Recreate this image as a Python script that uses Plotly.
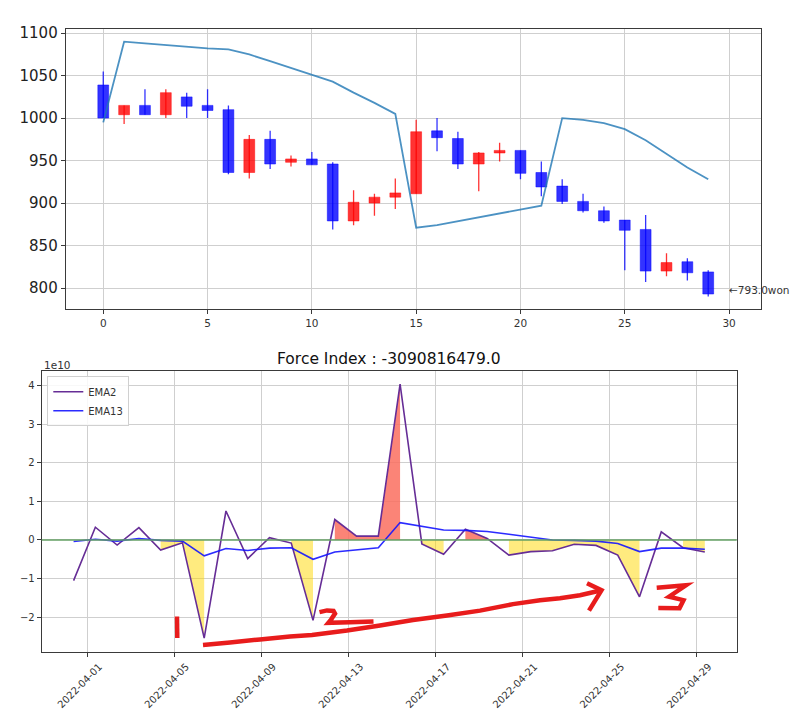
import pandas as pd
import plotly.graph_objects as go

# ---------------- data ----------------
candle_idx = list(range(30))
open_ = [1039, 1004, 1015, 1004, 1025, 1015, 1010, 936, 975, 948, 952, 946, 879, 900, 907,
         911, 985, 976, 946, 959, 962, 936, 920, 902, 891, 880, 869, 820, 831, 819]
close = [1000, 1015, 1004, 1030, 1014, 1009, 936, 975, 946, 952, 945, 879, 901, 907, 912,
         984, 977, 946, 959, 962, 935, 919, 902, 891, 879, 868, 820, 830, 818, 793]
high = [1055, 1015, 1034, 1034, 1030, 1034, 1015, 980, 985, 956, 960, 948, 915, 911, 929,
        998, 1000, 984, 960, 971, 962, 949, 928, 911, 896, 880, 886, 841, 835, 821]
low = [1000, 993, 1004, 1000, 1000, 1000, 934, 929, 940, 943, 945, 869, 874, 885, 893,
       911, 961, 940, 914, 949, 928, 908, 899, 889, 877, 821, 807, 814, 809, 790]
band_line = [995, 1090, 1088, 1086, 1084, 1082, 1081, 1075, 1067, 1059, 1051, 1043, 1030, 1018, 1005,
             871, 874, 878.5, 883, 888, 892.5, 897, 1000, 998, 994, 987, 974, 958, 942, 928]

dates = pd.date_range("2022-03-31 09:00", periods=30, freq="D")
ema2 = [-1.05e10, 0.33e10, -0.13e10, 0.32e10, -0.26e10, -0.07e10, -2.54e10, 0.75e10, -0.48e10, 0.06e10,
        -0.08e10, -2.08e10, 0.53e10, 0.10e10, 0.10e10, 4.03e10, -0.10e10, -0.37e10, 0.28e10, 0.04e10,
        -0.39e10, -0.30e10, -0.28e10, -0.11e10, -0.14e10, -0.39e10, -1.47e10, 0.21e10, -0.20e10,
        -3090816479.0]
ema13 = [-0.04e10, 0.02e10, -0.03e10, 0.04e10, -0.01e10, -0.03e10, -0.41e10, -0.22e10, -0.27e10, -0.21e10,
         -0.20e10, -0.50e10, -0.31e10, -0.26e10, -0.20e10, 0.45e10, 0.36e10, 0.26e10, 0.25e10, 0.22e10,
         0.15e10, 0.08e10, 0.0, -0.01e10, -0.03e10, -0.09e10, -0.30e10, -0.21e10, -0.21e10, -0.24e10]

top_xticks = [0, 5, 10, 15, 20, 25, 30]
top_yticks = [800, 850, 900, 950, 1000, 1050, 1100]
bot_xticks = pd.date_range("2022-04-01", "2022-04-29", freq="4D")
bot_yticks = [-2, -1, 0, 1, 2, 3, 4]

# hand-drawn red marks (window pixel coordinates)
mark_one = [(177, 616), (177.3, 637.5)]
mark_curve = [(203, 644.5), (230, 642), (260, 639), (290, 636), (312, 634.5), (347, 630), (380, 625),
              (413, 619.5), (447, 615), (480, 610), (513, 603.5), (540, 599.5), (560, 597.5),
              (580, 594.5), (601.5, 589.5)]
mark_head = [(587, 582.5), (601.5, 589.5), (589, 610)]
mark_two = [(319.5, 611.5), (327, 609.8), (333.5, 610.3), (335, 613), (331, 619), (328.3, 622.3),
            (350, 621.7), (373.5, 621)]
mark_three = [(656.7, 587), (686, 584.5), (669, 596), (683.5, 599.5), (679.5, 607.5), (658.3, 607.3)]

# the page body has an 8px margin: the figure is drawn offset by OFF inside the window
OFF = 8
W, H = 800 - OFF, 719 - OFF


def fx(px):
    return (px - OFF) / W


def fy(py):
    return 1 - (py - OFF) / H


RED = "rgba(255,0,0,0.8)"
BLUE = "rgba(0,0,255,0.8)"
GRID = "#cfcfcf"
AX = "#3a3a3a"
FONT = "DejaVu Sans"

fig = go.Figure()

# ---------------- top: candles ----------------
up = [c > o for o, c in zip(open_, close)]
colors = [RED if u else BLUE for u in up]

for want, col in ((True, RED), (False, BLUE)):
    xs, ys = [], []
    for i, h, l, u in zip(candle_idx, high, low, up):
        if u == want:
            xs += [i, i, None]
            ys += [l, h, None]
    fig.add_trace(go.Scatter(x=xs, y=ys, mode="lines", line=dict(color=col, width=1.3),
                             showlegend=False, hoverinfo="skip", xaxis="x", yaxis="y"))

fig.add_trace(go.Bar(x=candle_idx, y=[max(abs(c - o), 0.8) for o, c in zip(open_, close)],
                     base=[min(o, c) for o, c in zip(open_, close)], width=0.52,
                     marker=dict(color=colors, line=dict(color=colors, width=0.6)),
                     showlegend=False, xaxis="x", yaxis="y"))

fig.add_trace(go.Scatter(x=candle_idx, y=band_line, mode="lines",
                         line=dict(color="rgba(31,119,180,0.8)", width=1.8),
                         showlegend=False, xaxis="x", yaxis="y"))

fig.add_annotation(x=candle_idx[-1] + 1, y=close[-1], xref="x", yref="y",
                   text="←{}won".format(float(close[-1])), showarrow=False,
                   xanchor="left", yanchor="middle", yshift=4, xshift=-2,
                   font=dict(family=FONT, size=10.5, color="#333"))

# ---------------- bottom: force index ----------------
def runs(flags):
    out, cur = [], []
    for i, f in enumerate(flags):
        if f:
            cur.append(i)
        else:
            if len(cur) >= 2:
                out.append(cur)
            cur = []
    if len(cur) >= 2:
        out.append(cur)
    return out

for flags, col in ((up, "rgba(250,110,95,0.85)"), ([not u for u in up], "rgba(255,215,0,0.5)")):
    for r in runs(flags):
        xs = [dates[i] for i in r] + [dates[i] for i in reversed(r)]
        ys = [ema2[i] for i in r] + [0 for _ in r]
        fig.add_trace(go.Scatter(x=xs, y=ys, fill="toself", fillcolor=col, mode="lines",
                                 line=dict(width=0, color=col), showlegend=False,
                                 hoverinfo="skip", xaxis="x2", yaxis="y2"))

fig.add_shape(type="line", xref="x2 domain", yref="y2", x0=0, x1=1, y0=0, y1=0,
              line=dict(color="rgb(100,160,100)", width=1.3))

fig.add_trace(go.Scatter(x=dates, y=ema2, mode="lines", name="EMA2",
                         line=dict(color="rgb(102,45,150)", width=1.6), xaxis="x2", yaxis="y2"))
fig.add_trace(go.Scatter(x=dates, y=ema13, mode="lines", name="EMA13",
                         line=dict(color="rgba(20,20,255,0.9)", width=1.6), xaxis="x2", yaxis="y2"))

fig.add_annotation(x=fx((41.7 + 736.7) / 2), y=fy(357), xref="paper", yref="paper",
                   text="Force Index : {}".format(ema2[-1]), showarrow=False,
                   xanchor="center", yanchor="middle", font=dict(family=FONT, size=15.5, color="#111"))
fig.add_annotation(x=fx(41.7), y=fy(362.5), xref="paper", yref="paper", text="1e10",
                   showarrow=False, xanchor="left", yanchor="middle",
                   font=dict(family=FONT, size=10.5, color="#333"))


# ---------------- hand-drawn red marks ----------------
def path_from(pts):
    s = ""
    for k, (px, py) in enumerate(pts):
        s += ("M" if k == 0 else "L") + " {:.5f},{:.5f} ".format(fx(px), fy(py))
    return s.strip()


for pts in (mark_one, mark_curve, mark_head, mark_two, mark_three):
    fig.add_shape(type="path", xref="paper", yref="paper", path=path_from(pts),
                  line=dict(color="rgb(232,28,28)", width=4.5))

axis_common = dict(showgrid=True, gridcolor=GRID, gridwidth=1, showline=True, mirror=True,
                   linecolor=AX, linewidth=1, ticks="outside", ticklen=4, tickcolor=AX,
                   zeroline=False)

fig.update_layout(
    width=W, height=H, margin=dict(l=0, r=0, t=0, b=0),
    paper_bgcolor="white", plot_bgcolor="white", barmode="overlay",
    font=dict(family=FONT, color="#333"),
    xaxis=dict(domain=[fx(65.7), fx(761)], anchor="y", range=[-1.8, 31.53],
               tickvals=top_xticks, tickfont=dict(size=10.5), **axis_common),
    yaxis=dict(domain=[fy(307), fy(25)], anchor="x", range=[775, 1105],
               tickvals=top_yticks, tickfont=dict(size=15, color="#222"), **axis_common),
    xaxis2=dict(domain=[fx(41.7), fx(736.7)], anchor="y2", type="date",
                range=["2022-03-29 21:50", "2022-04-30 20:10"],
                tickvals=list(bot_xticks), tickformat="%Y-%m-%d", tickangle=-45,
                ticklabelshift=12, tickfont=dict(size=10), **axis_common),
    yaxis2=dict(domain=[fy(651.7), fy(369.5)], anchor="x2", range=[-2.9e10, 4.36e10],
                tickvals=[v * 1e10 for v in bot_yticks],
                ticktext=[str(v).replace("-", "−") for v in bot_yticks],
                tickfont=dict(size=10), **axis_common),
    legend=dict(x=fx(47.3), y=fy(374.3), xanchor="left", yanchor="top",
                bgcolor="rgba(255,255,255,0.85)", bordercolor="#d0d0d0", borderwidth=1,
                font=dict(family=FONT, size=10, color="#333"), tracegroupgap=0,
                itemwidth=30, tracegroupgap_=None) if False else
           dict(x=fx(47.3), y=fy(374.3), xanchor="left", yanchor="top",
                bgcolor="rgba(255,255,255,0.85)", bordercolor="#d0d0d0", borderwidth=1,
                font=dict(family=FONT, size=10, color="#333"), tracegroupgap=0, itemwidth=30),
)

fig.write_html("out.html")
